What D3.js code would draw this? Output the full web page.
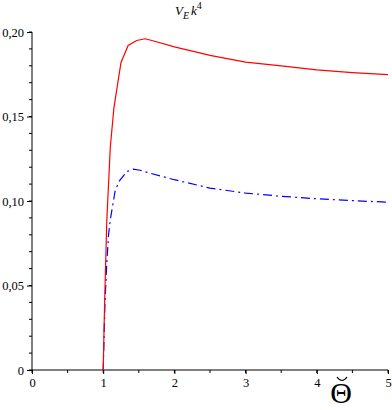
<!DOCTYPE html>
<html>
<head>
<meta charset="utf-8">
<script src="https://cdn.jsdelivr.net/npm/d3@7"></script>
<style>
  body { margin: 0; background: #fff; }
  svg { display: block; }
  svg text { font-family: "Liberation Serif", "Times New Roman", "DejaVu Serif", serif; }
</style>
</head>
<body>
<div id="chart"></div>
<script>
// values
const redX = [1, 1.02, 1.05, 1.1, 1.15, 1.25, 1.35, 1.47, 1.59, 1.71, 2.0, 2.5, 3, 3.5, 4, 4.5, 5];
const redY = [0, 0.04, 0.088, 0.132, 0.155, 0.182, 0.192, 0.195, 0.196, 0.1947, 0.1912, 0.1862, 0.1822, 0.1800, 0.1776, 0.1760, 0.1748];
const blueX = [1, 1.025, 1.05, 1.075, 1.1, 1.166, 1.22, 1.33, 1.42, 1.52, 1.63, 1.8, 2.0, 2.5, 3, 3.5, 4, 4.5, 5];
const blueY = [0, 0.04, 0.063, 0.08, 0.089, 0.1056, 0.1115, 0.1174, 0.1188, 0.1182, 0.1168, 0.1148, 0.1126, 0.1076, 0.1047, 0.1028, 0.1013, 0.1002, 0.0993];
const xTicks = [0, 1, 2, 3, 4, 5];
const yTicks = [0, 0.05, 0.10, 0.15, 0.20];

const width = 392, height = 410;
const svg = d3.select("#chart").append("svg")
  .attr("width", width)
  .attr("height", height);

const x = d3.scaleLinear().domain([0, 5]).range([32, 388]);
const y = d3.scaleLinear().domain([0, 0.2]).range([370, 32]);

const fmt = d => d === 0 ? "0" : d3.format(".2f")(d).replace(".", ",");

// minor ticks
svg.append("g").selectAll("line")
  .data(d3.range(0, 0.2001, 0.01))
  .enter().append("line")
  .attr("x1", 29).attr("x2", 32)
  .attr("y1", d => y(d)).attr("y2", d => y(d))
  .attr("stroke", "#000");
svg.append("g").selectAll("line")
  .data(d3.range(0, 5.01, 0.5))
  .enter().append("line")
  .attr("x1", d => x(d)).attr("x2", d => x(d))
  .attr("y1", 370).attr("y2", 373)
  .attr("stroke", "#000");

// axes
svg.append("g")
  .attr("transform", "translate(32,0)")
  .call(d3.axisLeft(y).tickValues(yTicks).tickFormat(fmt).tickSize(5).tickPadding(3))
  .call(g => g.attr("font-family", null))
  .call(g => g.selectAll("text").style("font-size", "12.5px"))
  .call(g => g.select(".domain").attr("d", "M0,370V32"));

svg.append("g")
  .attr("transform", "translate(0,370)")
  .call(d3.axisBottom(x).tickValues(xTicks).tickFormat(d3.format("d")).tickSize(4).tickPadding(4))
  .call(g => g.attr("font-family", null))
  .call(g => g.selectAll("text").style("font-size", "12.5px"))
  .call(g => g.select(".domain").attr("d", "M32,0H388"));

const line = d3.line().x(d => x(d[0])).y(d => y(d[1]));

svg.append("path")
  .datum(d3.zip(blueX, blueY))
  .attr("d", line)
  .attr("fill", "none")
  .attr("stroke", "#0000ff")
  .attr("stroke-width", 1.2)
  .attr("stroke-dasharray", "9,4,2,4");

svg.append("path")
  .datum(d3.zip(redX, redY))
  .attr("d", line)
  .attr("fill", "none")
  .attr("stroke", "#ff0000")
  .attr("stroke-width", 1.2);

// title
const title = svg.append("text")
  .attr("x", 175).attr("y", 15)
  .style("font-style", "italic")
  .style("font-size", "13px");
title.append("tspan").text("V");
title.append("tspan").attr("dy", 4).style("font-size", "10px").text("E");
title.append("tspan").attr("dy", -4).attr("dx", 2).text("k");
title.append("tspan").attr("dy", -6).style("font-size", "10px").style("font-style", "normal").text("4");

// x axis label: theta with a breve drawn above
svg.append("text")
  .attr("x", 341).attr("y", 403)
  .attr("text-anchor", "middle")
  .style("font-size", "30px")
  .text("Θ");
svg.append("path")
  .attr("d", "M337,377 Q342,384 347,377")
  .attr("fill", "none")
  .attr("stroke", "#000")
  .attr("stroke-width", 1.2);
</script>
</body>
</html>
